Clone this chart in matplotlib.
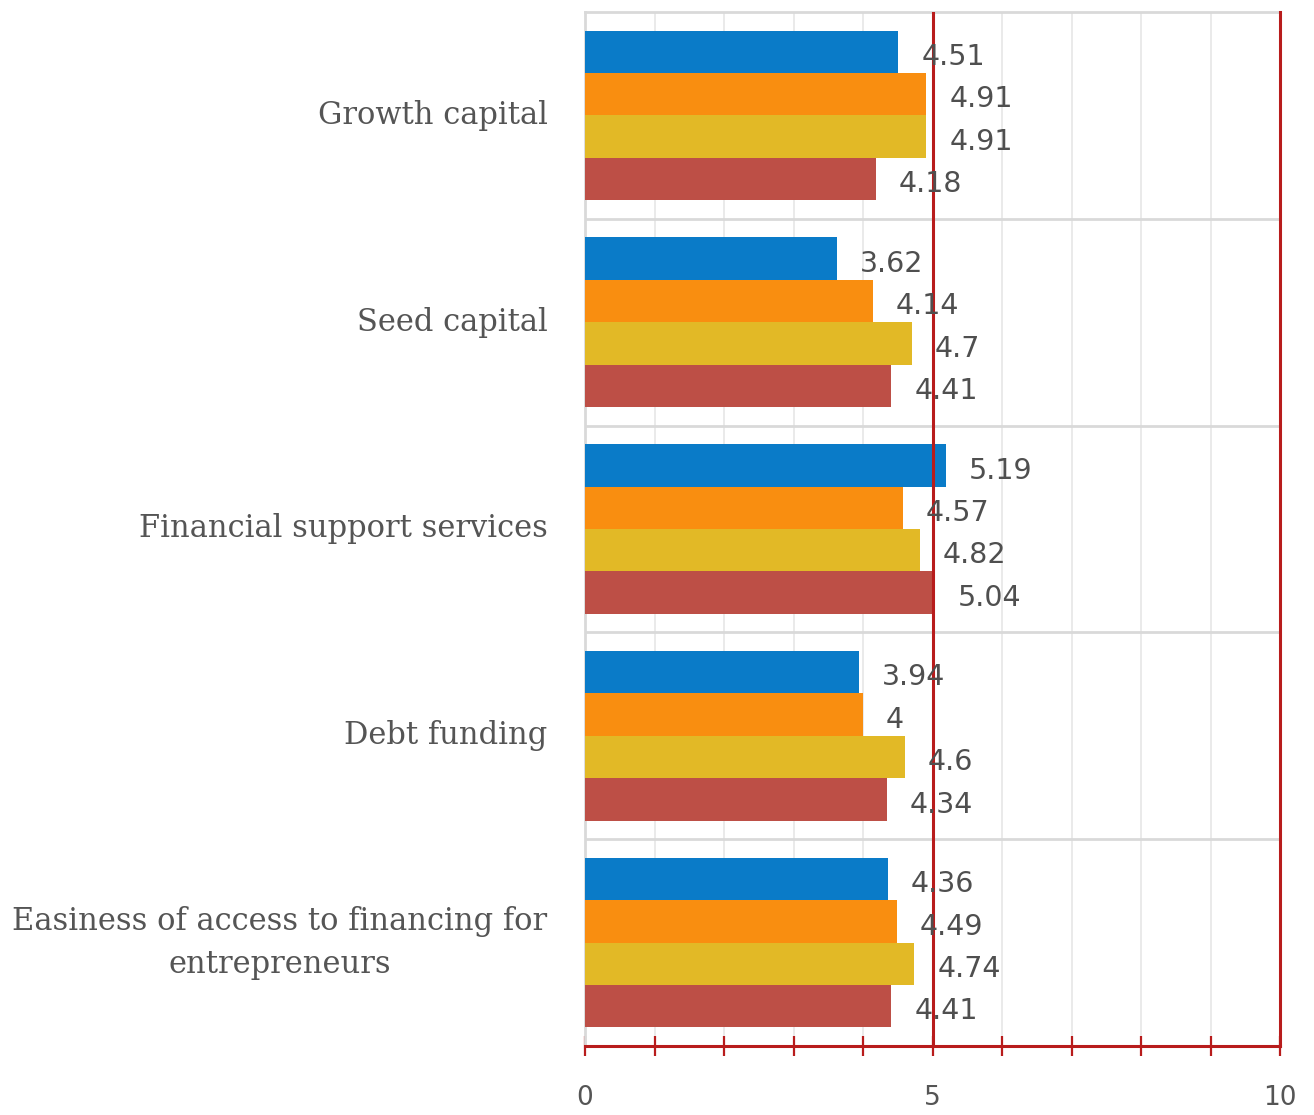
import matplotlib
matplotlib.use("Agg")
import matplotlib.pyplot as plt
import numpy as np

categories = [
    "Growth capital",
    "Seed capital",
    "Financial support services",
    "Debt funding",
    "Easiness of access to financing for\nentrepreneurs",
]
series_a = [4.51, 3.62, 5.19, 3.94, 4.36]
series_b = [4.91, 4.14, 4.57, 4.00, 4.49]
series_c = [4.91, 4.70, 4.82, 4.60, 4.74]
series_d = [4.18, 4.41, 5.04, 4.34, 4.41]
x_tick_labels = ["0", "5", "10"]

colors = ["#0a7bc8", "#f98e10", "#e2b926", "#bd4f46"]
text_grey = "#555555"
axis_red = "#b81c1c"

fig = plt.figure(figsize=(13.14, 11.15), dpi=100)
ax = fig.add_axes([585 / 1314, 1 - 1046 / 1115, 695 / 1314, 1034 / 1115])

all_series = [series_a, series_b, series_c, series_d]
bar_h = 0.205
y = np.arange(len(categories))
for k, (vals, col) in enumerate(zip(all_series, colors)):
    offs = (k - 1.5) * bar_h
    ax.barh(y + offs, vals, height=bar_h, color=col, zorder=3)
    for yi, v in zip(y, vals):
        ax.text(v + 0.33, yi + offs + 0.025, f"{v:g}", ha="left", va="center",
                fontsize=20.5, color="#4f4f4f", family="DejaVu Sans", zorder=5)

ax.set_xlim(0, 10)
ax.set_ylim(4.5, -0.5)

# vertical grid
for gx in range(1, 10):
    if gx == 5:
        continue
    ax.axvline(gx, color="#e8e8e8", lw=1.3, zorder=1)
ax.axvline(5, color=axis_red, lw=2.2, zorder=4)
ax.axvline(10, color=axis_red, lw=2.2, zorder=4, clip_on=False)

# category separators
for sy in np.arange(0.5, 4.5, 1.0):
    ax.axhline(sy, color="#d9d9d9", lw=2, zorder=2)

for side in ["top", "left"]:
    ax.spines[side].set_color("#d9d9d9")
    ax.spines[side].set_linewidth(2)
ax.spines["right"].set_visible(False)
ax.spines["bottom"].set_color(axis_red)
ax.spines["bottom"].set_linewidth(2.2)
ax.spines["bottom"].set_zorder(6)

ax.set_xticks(range(0, 11))
tick_text = {0: x_tick_labels[0], 5: x_tick_labels[1], 10: x_tick_labels[2]}
ax.set_xticklabels([tick_text.get(i, "") for i in range(11)])
ax.tick_params(axis="x", direction="inout", length=14, width=1.6, color=axis_red,
               labelsize=19, labelcolor=text_grey, pad=21)
for lbl in ax.get_xticklabels():
    lbl.set_family("DejaVu Sans")

ax.set_yticks(y)
ax.set_yticklabels(categories, fontsize=22.0, color=text_grey, family="DejaVu Serif",
                   multialignment="center", linespacing=1.5)
for lbl in ax.get_yticklabels():
    lbl.set_verticalalignment("center")
ax.tick_params(axis="y", length=0, pad=27)

fig.savefig("out.png", dpi=100)
